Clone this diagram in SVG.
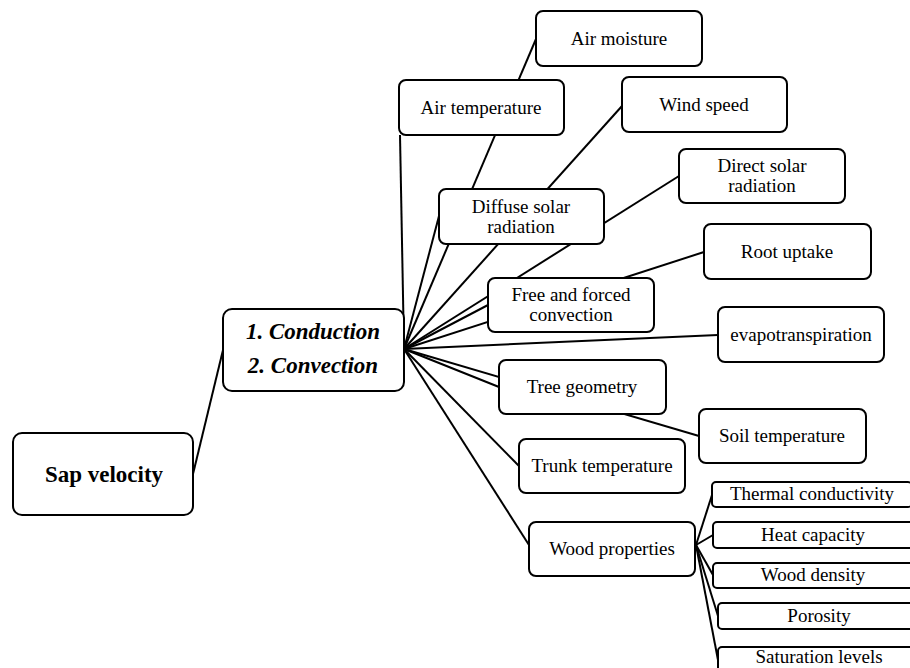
<svg xmlns="http://www.w3.org/2000/svg" width="910" height="668" viewBox="0 0 910 668">
<style>
.box{fill:#fff;stroke:#000;stroke-width:2}
.t{font-family:"Liberation Serif","Times New Roman",serif;font-size:19px;fill:#000;text-anchor:middle}
.big{font-family:"Liberation Serif","Times New Roman",serif;font-size:23px;font-weight:bold;fill:#000;text-anchor:middle}
.bi{font-style:italic}
.c line{stroke:#000;stroke-width:2}
</style>
<rect width="910" height="668" fill="#fff"/>
<g id="connectors" class="c">
<line x1="193" y1="474" x2="223" y2="350"/>
<line x1="404" y1="349" x2="400" y2="135"/>
<line x1="404" y1="349" x2="536" y2="39"/>
<line x1="404" y1="349" x2="439" y2="216"/>
<line x1="404" y1="349" x2="622" y2="106"/>
<line x1="404" y1="349" x2="679" y2="176"/>
<line x1="404" y1="349" x2="488" y2="305"/>
<line x1="404" y1="349" x2="704" y2="252"/>
<line x1="404" y1="349" x2="718" y2="335"/>
<line x1="404" y1="349" x2="499" y2="387"/>
<line x1="404" y1="349" x2="699" y2="436"/>
<line x1="404" y1="349" x2="519" y2="466"/>
<line x1="404" y1="349" x2="529" y2="545"/>
<line x1="696" y1="545" x2="712" y2="495"/>
<line x1="696" y1="545" x2="713" y2="535"/>
<line x1="696" y1="545" x2="713" y2="575"/>
<line x1="696" y1="545" x2="718" y2="616"/>
<line x1="696" y1="545" x2="718" y2="660"/>
</g>
<g id="sap-velocity"><rect class="box" x="13" y="433" width="180" height="82" rx="9"/><text class="big" x="104" y="482">Sap velocity</text></g>
<g id="conduction-convection"><rect class="box" x="223" y="309" width="181" height="82" rx="9"/><text class="big bi" x="313" y="339">1. Conduction</text><text class="big bi" x="313" y="373">2. Convection</text></g>
<g id="air-moisture"><rect class="box" x="536" y="11" width="166" height="55" rx="7"/><text class="t" x="619" y="45">Air moisture</text></g>
<g id="air-temperature"><rect class="box" x="399" y="80" width="165" height="55" rx="7"/><text class="t" x="481" y="114">Air temperature</text></g>
<g id="wind-speed"><rect class="box" x="622" y="77" width="165" height="55" rx="7"/><text class="t" x="704" y="111">Wind speed</text></g>
<g id="direct-solar"><rect class="box" x="679" y="149" width="166" height="54" rx="7"/><text class="t" x="762" y="172">Direct solar</text><text class="t" x="762" y="192">radiation</text></g>
<g id="diffuse-solar"><rect class="box" x="439" y="189" width="165" height="55" rx="7"/><text class="t" x="521" y="213">Diffuse solar</text><text class="t" x="521" y="233">radiation</text></g>
<g id="root-uptake"><rect class="box" x="704" y="224" width="167" height="55" rx="7"/><text class="t" x="787" y="258">Root uptake</text></g>
<g id="free-forced-convection"><rect class="box" x="488" y="278" width="166" height="54" rx="7"/><text class="t" x="571" y="301">Free and forced</text><text class="t" x="571" y="321">convection</text></g>
<g id="evapotranspiration"><rect class="box" x="718" y="307" width="166" height="55" rx="7"/><text class="t" x="801" y="341">evapotranspiration</text></g>
<g id="tree-geometry"><rect class="box" x="499" y="360" width="167" height="54" rx="7"/><text class="t" x="582" y="393">Tree geometry</text></g>
<g id="soil-temperature"><rect class="box" x="699" y="409" width="167" height="54" rx="7"/><text class="t" x="782" y="442">Soil temperature</text></g>
<g id="trunk-temperature"><rect class="box" x="519" y="439" width="166" height="54" rx="7"/><text class="t" x="602" y="472">Trunk temperature</text></g>
<g id="wood-properties"><rect class="box" x="529" y="522" width="166" height="54" rx="7"/><text class="t" x="612" y="555">Wood properties</text></g>
<g id="thermal-conductivity"><rect class="box" x="712" y="482" width="200" height="25" rx="4"/><text class="t" x="812" y="500">Thermal conductivity</text></g>
<g id="heat-capacity"><rect class="box" x="713" y="522" width="200" height="26" rx="4"/><text class="t" x="813" y="541">Heat capacity</text></g>
<g id="wood-density"><rect class="box" x="713" y="563" width="200" height="25" rx="4"/><text class="t" x="813" y="581">Wood density</text></g>
<g id="porosity"><rect class="box" x="718" y="603" width="202" height="26" rx="4"/><text class="t" x="819" y="622">Porosity</text></g>
<g id="saturation-levels"><rect class="box" x="718" y="647" width="202" height="30" rx="4"/><text class="t" x="819" y="663">Saturation levels</text></g>
</svg>
